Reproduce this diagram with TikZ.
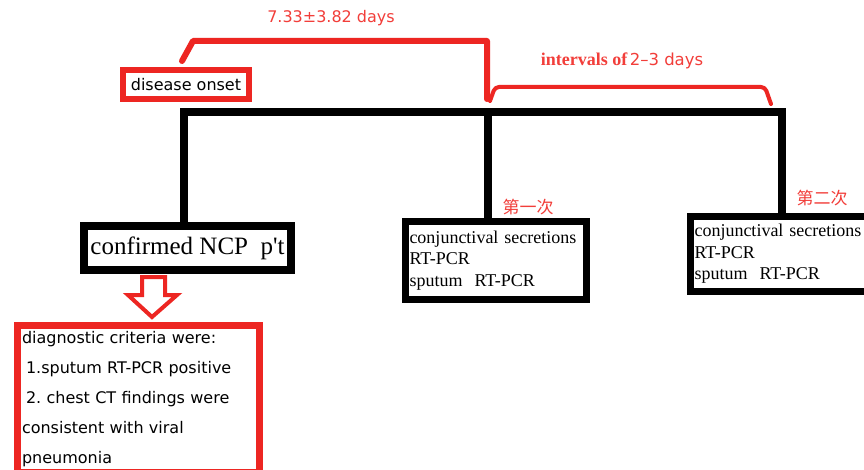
\documentclass[tikz,border=0pt]{standalone}
\usepackage{fontspec}
\setmainfont{Liberation Serif}
\newfontfamily\uisans{DejaVu Sans}
\newfontfamily\cjk{Noto Sans CJK SC}
\definecolor{markred}{RGB}{237,38,34}
\definecolor{notered}{RGB}{242,62,58}
\frenchspacing

\begin{document}
\begin{tikzpicture}[x=1pt,y=-1pt,
  tree/.style={line width=8pt,black,line join=miter},
  blackbox/.style={draw=black,line width=7pt,fill=white,inner sep=0pt},
  redbox/.style={draw=markred,line width=7pt,fill=white},
  brace/.style={draw=markred,line width=6pt,line cap=round,line join=round},
  note/.style={text=notered,inner sep=0pt}]

  \clip (0,0) rectangle (864,470);
  \fill[white] (0,0) rectangle (864,470);

  % junctions on the bar
  \coordinate (j1) at (184,112);
  \coordinate (j2) at (488,112);
  \coordinate (j3) at (782,112);

  % draw boxes
  \node[redbox,line width=6pt,minimum width=126pt,minimum height=29pt,inner sep=0pt,
        font=\uisans\fontsize{16}{18}\selectfont] (onset) at (186,84.5) {disease onset};
  \node[blackbox,line width=8pt,minimum width=207pt,minimum height=44pt,
        font=\fontsize{25}{28}\selectfont] (confirmed) at (187.5,248) {confirmed NCP\ \ p\textquotesingle t};
  \node[blackbox,minimum width=181pt,minimum height=78pt,text width=173pt,inner xsep=4pt,
        align=left,font=\fontsize{18}{21.5}\selectfont] (first) at (496,260.5)
        {conjunctival secretions\\RT-PCR\\sputum\ \ RT-PCR};
  \node[blackbox,minimum width=186pt,minimum height=75pt,text width=178pt,inner xsep=4pt,
        align=left,font=\fontsize{18}{21.5}\selectfont] (second) at (783.5,254)
        {conjunctival secretions\\RT-PCR\\sputum\ \ RT-PCR};
  \node[redbox,anchor=north west,text width=232pt,inner xsep=5pt,inner ysep=6pt,align=left,
        font=\uisans\fontsize{16}{30}\selectfont] (criteria) at (13.5,321.5)
        {diagnostic criteria were:\\\hspace*{4pt}1.sputum RT-PCR positive\\
         \hspace*{4pt}2. chest CT findings were\\consistent with viral\\pneumonia};

  % draw tree
  \draw[tree] (j1 |- confirmed.north) -- (j1) -- (j3) -- (j3 |- second.north);
  \draw[tree] (j2) -- (j2 |- first.north);

  % hollow arrow
  \draw[draw=markred,line width=4pt,fill=white,line join=miter]
    (142,277) -- (165,277) -- (165,295) -- (177,295) -- (152,317) -- (128,295) -- (142,295) -- cycle;

  % brackets
  \coordinate (b1) at (182,61);
  \coordinate (b2) at (487,99);
  \coordinate (b3) at (490,101);
  \coordinate (b4) at (771,104);
  \draw[brace] (b1) -- (193,41) -- (487,41) -- (b2);
  \draw[brace,line width=4pt,rounded corners=4pt] (b3) -- (495,87) -- (765,87) -- (b4);

  % labels
  \node[note,font=\uisans\fontsize{16}{18}\selectfont] (mean) at (331,18) {7.33±3.82 days};
  \node[note] (interval) at (622,61)
    {{\bfseries\fontsize{18}{20}\selectfont intervals of} {\uisans\fontsize{16.5}{18}\selectfont 2–3 days}};
  \node[note,font=\cjk\fontsize{17}{20}\selectfont] (round1) at (528,207) {第一次};
  \node[note,font=\cjk\fontsize{17}{20}\selectfont] (round2) at (822,198) {第二次};

\end{tikzpicture}
\end{document}
